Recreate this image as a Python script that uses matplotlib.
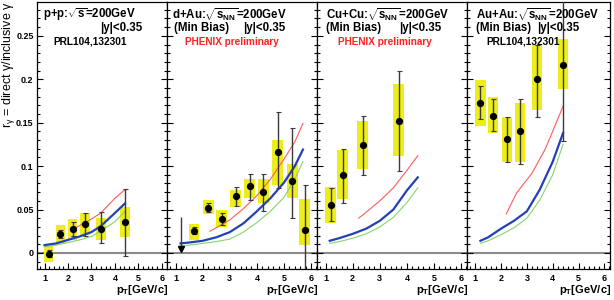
import matplotlib
matplotlib.use("Agg")
import matplotlib.pyplot as plt
from matplotlib.ticker import MultipleLocator, FuncFormatter
import numpy as np

plt.rcParams['font.family'] = ['Liberation Sans', 'DejaVu Sans']
plt.rcParams['mathtext.fontset'] = 'custom'
plt.rcParams['mathtext.rm'] = 'Liberation Sans'
plt.rcParams['mathtext.it'] = 'Liberation Sans'
plt.rcParams['mathtext.bf'] = 'Liberation Sans:bold'
plt.rcParams['mathtext.default'] = 'regular'

# ---------------- data ----------------
# p+p
pp_pt = [1.18, 1.68, 2.20, 2.72, 3.40, 4.43]
pp_r = [-0.001, 0.022, 0.028, 0.033, 0.028, 0.036]
pp_stat_lo = [0.004, 0.005, 0.009, 0.014, 0.017, 0.039]
pp_stat_hi = [0.004, 0.004, 0.008, 0.013, 0.019, 0.038]
pp_sys_lo = [0.010, 0.010, 0.013, 0.012, 0.013, 0.018]
pp_sys_hi = [0.009, 0.010, 0.011, 0.013, 0.012, 0.017]
pp_red_pt = [2.2, 2.72, 3.0, 3.4, 4.0, 4.43]
pp_red = [0.027, 0.035, 0.039, 0.046, 0.063, 0.073]
pp_th_pt = [1.0, 1.5, 2.0, 2.5, 3.0, 3.4, 4.0, 4.43]
pp_blue = [0.009, 0.011, 0.015, 0.019, 0.024, 0.031, 0.046, 0.057]
pp_green = [0.007, 0.009, 0.012, 0.015, 0.019, 0.025, 0.036, 0.048]

# d+Au
dau_pt = [1.68, 2.20, 2.70, 3.22, 3.74, 4.24, 4.77, 5.30, 5.77]
dau_r = [0.025, 0.052, 0.039, 0.065, 0.077, 0.070, 0.116, 0.083, 0.026]
dau_stat_lo = [0.003, 0.005, 0.007, 0.011, 0.016, 0.022, 0.041, 0.043, 0.060]
dau_stat_hi = [0.005, 0.006, 0.007, 0.011, 0.014, 0.021, 0.046, 0.061, 0.052]
dau_sys_lo = [0.010, 0.007, 0.009, 0.012, 0.014, 0.012, 0.038, 0.020, 0.017]
dau_sys_hi = [0.008, 0.009, 0.011, 0.008, 0.008, 0.015, 0.014, 0.020, 0.036]
dau_ul_pt = [1.18]
dau_ul_top = [0.041]
dau_ul_tip = [0.004]
dau_red_pt = [2.26, 2.5, 3.0, 3.5, 4.0, 4.5, 5.0, 5.4, 5.7]
dau_red = [0.025, 0.029, 0.038, 0.051, 0.066, 0.085, 0.108, 0.128, 0.149]
dau_th_pt = [1.18, 1.5, 2.0, 2.5, 3.0, 3.5, 4.0, 4.5, 5.0, 5.4, 5.7]
dau_blue = [0.011, 0.012, 0.014, 0.018, 0.024, 0.034, 0.048, 0.063, 0.081, 0.100, 0.119]
dau_green = [0.008, 0.009, 0.011, 0.013, 0.016, 0.024, 0.035, 0.048, 0.064, 0.085, 0.105]

# Cu+Cu
cu_pt = [1.18, 1.63, 2.37, 3.70]
cu_r = [0.055, 0.090, 0.124, 0.152]
cu_stat_lo = [0.018, 0.032, 0.034, 0.058]
cu_stat_hi = [0.020, 0.030, 0.034, 0.058]
cu_sys_lo = [0.020, 0.028, 0.027, 0.040]
cu_sys_hi = [0.021, 0.029, 0.028, 0.042]
cu_red_pt = [2.22, 2.5, 3.0, 3.5, 4.0, 4.4]
cu_red = [0.040, 0.047, 0.060, 0.075, 0.095, 0.112]
cu_th_pt = [1.15, 1.5, 2.0, 2.5, 3.0, 3.5, 4.0, 4.4]
cu_blue = [0.014, 0.017, 0.022, 0.028, 0.037, 0.050, 0.072, 0.087]
cu_green = [0.011, 0.013, 0.017, 0.022, 0.030, 0.041, 0.058, 0.075]

# Au+Au
au_pt = [1.20, 1.70, 2.24, 2.74, 3.40, 4.40]
au_r = [0.173, 0.158, 0.131, 0.140, 0.200, 0.216]
au_stat_lo = [0.019, 0.018, 0.026, 0.037, 0.044, 0.087]
au_stat_hi = [0.019, 0.019, 0.026, 0.037, 0.040, 0.100]
au_sys_lo = [0.027, 0.020, 0.026, 0.035, 0.035, 0.027]
au_sys_hi = [0.026, 0.022, 0.026, 0.033, 0.040, 0.030]
au_red_pt = [2.2, 2.6, 3.2, 3.7, 4.0, 4.4]
au_red = [0.045, 0.069, 0.092, 0.119, 0.140, 0.169]
au_th_pt = [1.2, 1.5, 2.0, 2.5, 3.0, 3.5, 4.0, 4.4]
au_blue = [0.014, 0.018, 0.028, 0.037, 0.048, 0.073, 0.105, 0.138]
au_green = [0.011, 0.014, 0.021, 0.029, 0.040, 0.061, 0.090, 0.125]

x_ticks = [1, 2, 3, 4, 5, 6]
y_ticks = [0, 0.05, 0.1, 0.15, 0.2, 0.25]

# ---------------- figure ----------------
W, H = 614, 300
fig = plt.figure(figsize=(W / 100, H / 100), dpi=100)

panel_px = [(37, 167), (167, 317), (317, 467), (467, 610)]
top_px, bot_px = 2, 269

YELLOW = '#eded1e'
RED = '#ff5a5a'
BLUE = '#2340b8'
GREEN = '#86d46a'

datasets = [
    (pp_pt, pp_r, pp_stat_lo, pp_stat_hi, pp_sys_lo, pp_sys_hi,
     pp_red_pt, pp_red, pp_th_pt, pp_blue, pp_green),
    (dau_pt, dau_r, dau_stat_lo, dau_stat_hi, dau_sys_lo, dau_sys_hi,
     dau_red_pt, dau_red, dau_th_pt, dau_blue, dau_green),
    (cu_pt, cu_r, cu_stat_lo, cu_stat_hi, cu_sys_lo, cu_sys_hi,
     cu_red_pt, cu_red, cu_th_pt, cu_blue, cu_green),
    (au_pt, au_r, au_stat_lo, au_stat_hi, au_sys_lo, au_sys_hi,
     au_red_pt, au_red, au_th_pt, au_blue, au_green),
]

axes = []
for i, (l, r) in enumerate(panel_px):
    ax = fig.add_axes([l / W, 1 - bot_px / H, (r - l) / W, (bot_px - top_px) / H])
    axes.append(ax)
    (pt, rv, slo, shi, ylo, yhi, rpt, rr, tpt, tb, tg) = datasets[i]
    pt = np.array(pt); rv = np.array(rv)
    ylo = np.array(ylo); yhi = np.array(yhi)
    ax.set_xlim(0.68, 6.22)
    ax.set_ylim(-0.0185, 0.289)
    ax.axhline(0, color='#8a8a8a', lw=1.5, zorder=1)
    ax.bar(pt, ylo + yhi, bottom=rv - ylo, width=0.4, color=YELLOW,
           edgecolor='none', zorder=2)
    ax.plot(rpt, rr, color=RED, lw=0.8, zorder=3)
    ax.plot(tpt, tg, color=GREEN, lw=0.8, zorder=3)
    ax.plot(tpt, tb, color=BLUE, lw=1.6, zorder=3)
    ax.errorbar(pt, rv, yerr=[slo, shi], fmt='o', color='black', ms=4.2,
                ecolor='#3a3a3a', elinewidth=1.0, capsize=1.8, capthick=0.8,
                zorder=4)
    if i == 1:
        ax.vlines(dau_ul_pt, dau_ul_tip, dau_ul_top, color='#3a3a3a', lw=1.0, zorder=4)
        ax.plot(dau_ul_pt, dau_ul_tip, marker='v', color='black', ms=4.5,
                ls='none', zorder=5)

    ax.set_xticks(x_ticks)
    ax.xaxis.set_minor_locator(MultipleLocator(0.2))
    ax.set_yticks(y_ticks)
    ax.yaxis.set_minor_locator(MultipleLocator(0.01))
    ax.tick_params(which='both', direction='in', left=True, right=True,
                   top=False, bottom=True, width=0.8, color='black')
    ax.tick_params(which='major', length=4.5)
    ax.tick_params(which='minor', length=2.2)
    ax.tick_params(axis='x', labelsize=6.5, pad=3.5)
    ax.tick_params(axis='y', labelsize=6.5, pad=2.5)
    for lab in ax.get_xticklabels() + ax.get_yticklabels():
        lab.set_fontweight('bold')
    ax.yaxis.set_major_formatter(FuncFormatter(lambda v, p: '%g' % round(v, 3)))
    if i > 0:
        ax.tick_params(axis='y', labelleft=False)
    for sp in ax.spines.values():
        sp.set_linewidth(0.9)
    fig.text((r + 1) / W, 1 - 290 / H, r'p$_{T}$[GeV/c]', ha='right', va='center',
             fontsize=8, fontweight='bold')


def ftxt(x, y, s, size=8.3, color='black', weight='bold'):
    fig.text(x / W, 1 - y / H, s, ha='left', va='center', fontsize=size,
             color=color, fontweight=weight)


ftxt(43, 15, r'p+p:$\sqrt{s}$=200GeV')
ftxt(100, 28, '|y|<0.35')
ftxt(53, 42, 'PRL104,132301', size=7.3)

ftxt(172, 15, r'd+Au:$\sqrt{s_{NN}}$=200GeV')
ftxt(174, 28, '(Min Bias)')
ftxt(243, 28, '|y|<0.35')
ftxt(185, 42, 'PHENIX preliminary', size=7.2, color='#ff2020')

ftxt(326, 15, r'Cu+Cu:$\sqrt{s_{NN}}$=200GeV')
ftxt(326, 28, '(Min Bias)')
ftxt(399, 28, '|y|<0.35')
ftxt(338, 42, 'PHENIX preliminary', size=7.2, color='#ff2020')

ftxt(476, 15, r'Au+Au:$\sqrt{s_{NN}}$=200GeV')
ftxt(476, 28, '(Min Bias)')
ftxt(537, 28, '|y|<0.35')
ftxt(486, 42, 'PRL104,132301', size=7.3)

fig.text(9 / W, 1 - 1 / H, r'r$_{\gamma}$ = direct $\gamma$/inclusive $\gamma$',
         rotation=90, ha='center', va='top', fontsize=9)

fig.savefig('out.png', dpi=100)
